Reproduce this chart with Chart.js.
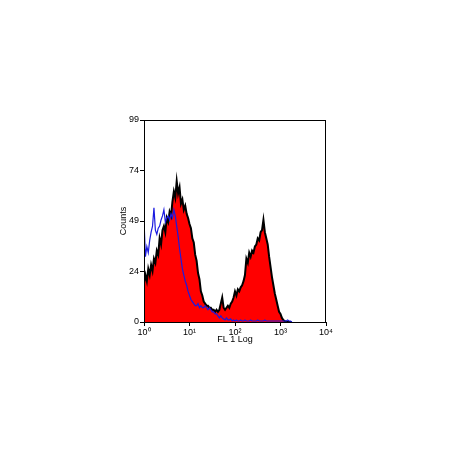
<!DOCTYPE html>
<html>
<head>
<meta charset="utf-8">
<script src="https://cdn.jsdelivr.net/npm/chart.js@4/dist/chart.umd.min.js"></script>
<style>
  html, body { margin: 0; padding: 0; background: #fff; }
  #wrap { width: 450px; height: 450px; }
</style>
</head>
<body>
<div id="wrap"><canvas id="histChart"></canvas></div>
<script>
// FL1 channels (0..1024 = 10^0..10^4), one reading every 8 channels
var channels = [
    0, 8, 16, 24, 32, 40, 48, 56,
    64, 72, 80, 88, 96, 104, 112, 120,
    128, 136, 144, 152, 160, 168, 176, 184,
    192, 200, 208, 216, 224, 232, 240, 248,
    256, 264, 272, 280, 288, 296, 304, 312,
    320, 328, 336, 344, 352, 360, 368, 376,
    384, 392, 400, 408, 416, 424, 432, 440,
    448, 456, 464, 472, 480, 488, 496, 504,
    512, 520, 528, 536, 544, 552, 560, 568,
    576, 584, 592, 600, 608, 616, 624, 632,
    640, 648, 656, 664, 672, 680, 688, 696,
    704, 712, 720, 728, 736, 744, 752, 760,
    768, 776, 784, 792, 800, 808, 816, 824,
    832
];

// stained sample (red fill, black outline)
var stainedCounts = [
    19, 23, 20, 26, 23, 28, 25, 31,
    29, 35, 33, 41, 38, 45, 47, 44,
    51, 49, 54, 52, 59, 64, 61, 69,
    63, 66, 58, 60, 55, 57, 53, 51,
    48, 46, 41, 39, 33, 30, 24, 21,
    15, 13, 10, 9, 8, 8, 7, 7,
    6, 6, 5, 6, 5, 6, 9, 12,
    7, 6, 7, 8, 7, 9, 10, 12,
    15, 13, 16, 15, 17, 18, 20, 23,
    31, 29, 34, 32, 35, 34, 37, 38,
    41, 40, 44, 45, 50, 44, 41, 38,
    32, 27, 22, 18, 14, 11, 8, 5,
    4, 2, 1, 0.5, 0, 0, 0, 0,
    0
];

// isotype control (blue line)
var controlCounts = [
    50, 32, 37, 34, 40, 44, 47, 56,
    45, 43, 46, 47, 50, 52, 55, 49,
    51, 52, 50, 53, 51, 55, 52, 47,
    42, 36, 31, 26, 23, 20, 18, 15,
    13, 11, 10, 9, 8, 8, 9, 7,
    8, 7, 7, 8, 7, 6, 7, 6,
    5, 5, 4, 4, 3, 2, 3, 2,
    1.5, 1, 2, 1, 1, 1.5, 0.5, 1,
    0.5, 1, 0.5, 0.5, 1, 0.5, 0.5, 1,
    0.5, 0.5, 0.5, 1, 0.5, 0.5, 0.5, 0.5,
    1, 0.5, 0.5, 0.5, 0.5, 1, 0.5, 0.5,
    0.5, 0.5, 0.5, 0.5, 0.5, 0.5, 0.5, 0.5,
    0.5, 0.5, 0.5, 0.5, 0.5, 1, 0.5, 0.5,
    0
];

var xTickValues = [0, 256, 512, 768, 1024];
var xTickLabels = ['10\u2070', '10\u00b9', '10\u00b2', '10\u00b3', '10\u2074'];
var yTickValues = [0, 24.75, 49.5, 74.25, 99];
var yTickLabels = ['0', '24', '49', '74', '99'];

function toPoints(ys) {
    return channels.map(function(c, i) { return { x: c, y: ys[i] }; });
}

var frameBox = {
    id: 'frameBox',
    afterDraw: function(chart) {
        var a = chart.chartArea, ctx = chart.ctx;
        ctx.save();
        ctx.strokeStyle = '#000';
        ctx.lineWidth = 1;
        ctx.strokeRect(a.left + 0.5, a.top + 0.5, a.right - a.left - 1, a.bottom - a.top);
        ctx.restore();
    }
};

var tickFont = { family: 'Liberation Sans', size: 9 };

new Chart(document.getElementById('histChart'), {
    type: 'line',
    data: {
        datasets: [{
            label: 'Control',
            data: toPoints(controlCounts),
            borderColor: '#1a1ae0',
            borderWidth: 1.2,
            pointRadius: 0,
            tension: 0,
            fill: false
        }, {
            label: 'Stained',
            data: toPoints(stainedCounts),
            borderColor: '#000',
            backgroundColor: '#ff0000',
            borderWidth: 2,
            pointRadius: 0,
            tension: 0,
            fill: 'origin'
        }]
    },
    plugins: [frameBox],
    options: {
        responsive: true,
        maintainAspectRatio: false,
        animation: false,
        layout: { padding: { left: 110, right: 124, top: 120, bottom: 100 } },
        plugins: {
            legend: { display: false },
            tooltip: { enabled: false }
        },
        scales: {
            x: {
                type: 'linear',
                min: 0,
                max: 1024,
                afterBuildTicks: function(axis) {
                    axis.ticks = xTickValues.map(function(v) { return { value: v }; });
                },
                afterFit: function(axis) { axis.height = 28; },
                ticks: {
                    color: '#000',
                    font: tickFont,
                    padding: 1,
                    maxRotation: 0,
                    callback: function(v) { return xTickLabels[xTickValues.indexOf(v)]; }
                },
                grid: { drawOnChartArea: false, tickLength: 4, color: '#000' },
                border: { color: '#000' },
                title: { display: true, text: 'FL 1 Log', color: '#000', font: tickFont, padding: { top: 0, bottom: 5 } }
            },
            y: {
                min: 0,
                max: 99,
                afterBuildTicks: function(axis) {
                    axis.ticks = yTickValues.map(function(v) { return { value: v }; });
                },
                afterFit: function(axis) { axis.width = 34; },
                ticks: {
                    color: '#000',
                    font: tickFont,
                    padding: 1,
                    callback: function(v) { return yTickLabels[yTickValues.indexOf(v)]; }
                },
                grid: { drawOnChartArea: false, tickLength: 4, color: '#000' },
                border: { color: '#000' },
                title: { display: true, text: 'Counts', color: '#000', font: tickFont, padding: { top: 8, bottom: 0 } }
            }
        }
    }
});
</script>
</body>
</html>
